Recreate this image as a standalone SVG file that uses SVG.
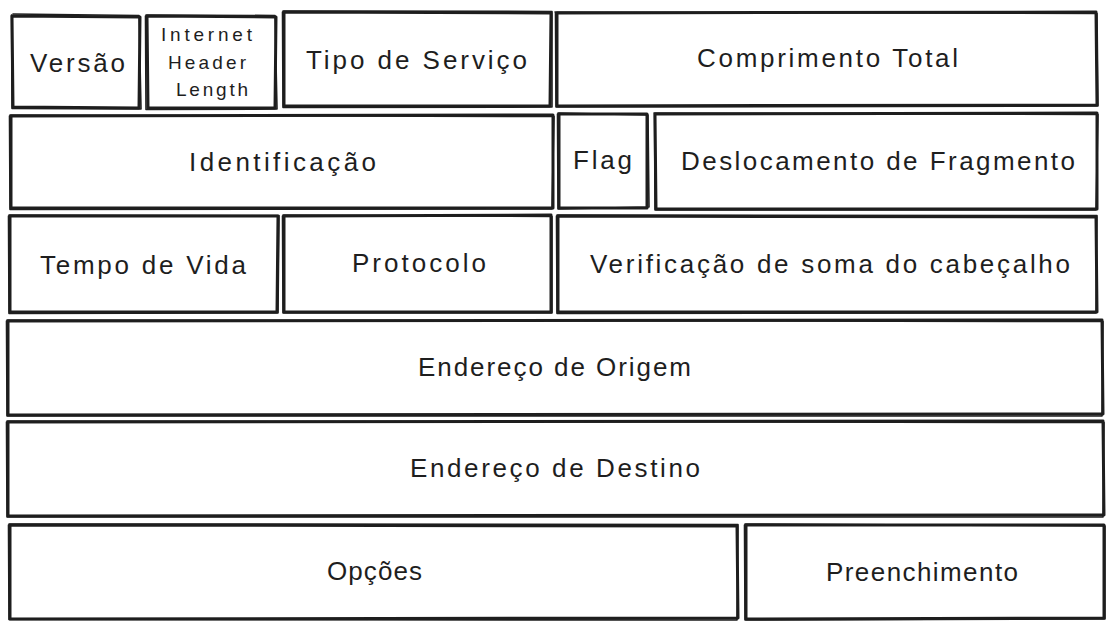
<svg xmlns="http://www.w3.org/2000/svg" width="1115" height="632" viewBox="0 0 1115 632">
<style>
.b{fill:none;stroke:#1e1e1e;stroke-width:3;stroke-linecap:round;stroke-linejoin:round}
.b2{fill:none;stroke:#1e1e1e;stroke-width:1.6;stroke-linecap:round;stroke-linejoin:round}
.t{font-family:"Liberation Sans","Noto Sans",sans-serif;font-size:26px;fill:#1e1e1e}
.s{font-family:"Liberation Sans","Noto Sans",sans-serif;font-size:19px;fill:#1e1e1e}
</style>
<rect width="1115" height="632" fill="#ffffff"/>
<g id="versao">
<path class="b" d="M12 16 L140 17 L139 108 L13 107 Z"/>
<path class="b2" d="M13 14 L139 15.5 L141 109 L12 108.5 L11.5 15"/>
<text class="t" x="30" y="72" textLength="95" lengthAdjust="spacing">Versão</text>
</g>
<g id="ihl">
<path class="b" d="M147 16 L276 17 L275 108 L148 108 Z"/>
<path class="b2" d="M146 15 L275 15.5 L277 109 L146 109.5 L145.5 16"/>
<text class="s" x="161" y="41" textLength="91" lengthAdjust="spacing">Internet</text>
<text class="s" x="168" y="69" textLength="78" lengthAdjust="spacing">Header</text>
<text class="s" x="176" y="96" textLength="72" lengthAdjust="spacing">Length</text>
</g>
<g id="tipo">
<path class="b" d="M284 12 L551 13 L550 106 L284 106 Z"/>
<path class="b2" d="M283 11 L552 11.5 L552 107 L283 107.5 L282.5 12"/>
<text class="t" x="306" y="69" textLength="221" lengthAdjust="spacing">Tipo de Serviço</text>
</g>
<g id="comprimento">
<path class="b" d="M557 13 L1096 12 L1097 105 L557 106 Z"/>
<path class="b2" d="M555 12 L1097 13.5 L1098 106 L556 107 L555.5 13"/>
<text class="t" x="697" y="67" textLength="261" lengthAdjust="spacing">Comprimento Total</text>
</g>
<g id="identificacao">
<path class="b" d="M11 116 L553 115 L553 208 L11 208 Z"/>
<path class="b2" d="M10 115 L554 116.5 L552 209 L10 209.5 L9.5 116"/>
<text class="t" x="189" y="171" textLength="187" lengthAdjust="spacing">Identificação</text>
</g>
<g id="flag">
<path class="b" d="M559 114 L647 114 L647 208 L559 208 Z"/>
<path class="b2" d="M558 113 L648 115 L649 207 L558 209 L557.5 114"/>
<text class="t" x="573" y="169" textLength="59" lengthAdjust="spacing">Flag</text>
</g>
<g id="deslocamento">
<path class="b" d="M655 114 L1097 113 L1097 209 L656 209 Z"/>
<path class="b2" d="M654 113 L1098 114.5 L1096 210 L655 210 L654.5 114"/>
<text class="t" x="681" y="170" textLength="394" lengthAdjust="spacing">Deslocamento de Fragmento</text>
</g>
<g id="tempo">
<path class="b" d="M10 216 L278 216 L277 312 L10 312 Z"/>
<path class="b2" d="M9 215 L279 215.5 L278 313 L9 313.5 L8.5 216"/>
<text class="t" x="40" y="274" textLength="206" lengthAdjust="spacing">Tempo de Vida</text>
</g>
<g id="protocolo">
<path class="b" d="M284 216 L551 215 L551 312 L284 312 Z"/>
<path class="b2" d="M283 215 L552 216.5 L552 313 L283 313 L282.5 216"/>
<text class="t" x="352" y="272" textLength="134" lengthAdjust="spacing">Protocolo</text>
</g>
<g id="verificacao">
<path class="b" d="M558 216 L1096 217 L1097 312 L558 312 Z"/>
<path class="b2" d="M557 215 L1097 215.5 L1096 313 L557 313.5 L556.5 216"/>
<text class="t" x="590" y="273" textLength="480" lengthAdjust="spacing">Verificação de soma do cabeçalho</text>
</g>
<g id="origem">
<path class="b" d="M8 321 L1102 320 L1103 414 L8 415 Z"/>
<path class="b2" d="M7 320 L1103 321.5 L1102 416 L7 416 L6.5 321"/>
<text class="t" x="418" y="376" textLength="273" lengthAdjust="spacing">Endereço de Origem</text>
</g>
<g id="destino">
<path class="b" d="M8 422 L1103 421 L1104 515 L8 516 Z"/>
<path class="b2" d="M7 421 L1104 422.5 L1103 517 L7 517 L6.5 422"/>
<text class="t" x="410" y="477" textLength="290" lengthAdjust="spacing">Endereço de Destino</text>
</g>
<g id="opcoes">
<path class="b" d="M10 525 L737 526 L738 618 L10 619 Z"/>
<path class="b2" d="M9 524 L738 524.5 L737 620 L9 619.5 L8.5 525"/>
<text class="t" x="327" y="580" textLength="95" lengthAdjust="spacing">Opções</text>
</g>
<g id="preenchimento">
<path class="b" d="M746 525 L1104 525 L1104 618 L746 619 Z"/>
<path class="b2" d="M745 524 L1105 526 L1105 619 L745 620 L744.5 525"/>
<text class="t" x="826" y="581" textLength="192" lengthAdjust="spacing">Preenchimento</text>
</g>
<g id="connectors"/>
</svg>
